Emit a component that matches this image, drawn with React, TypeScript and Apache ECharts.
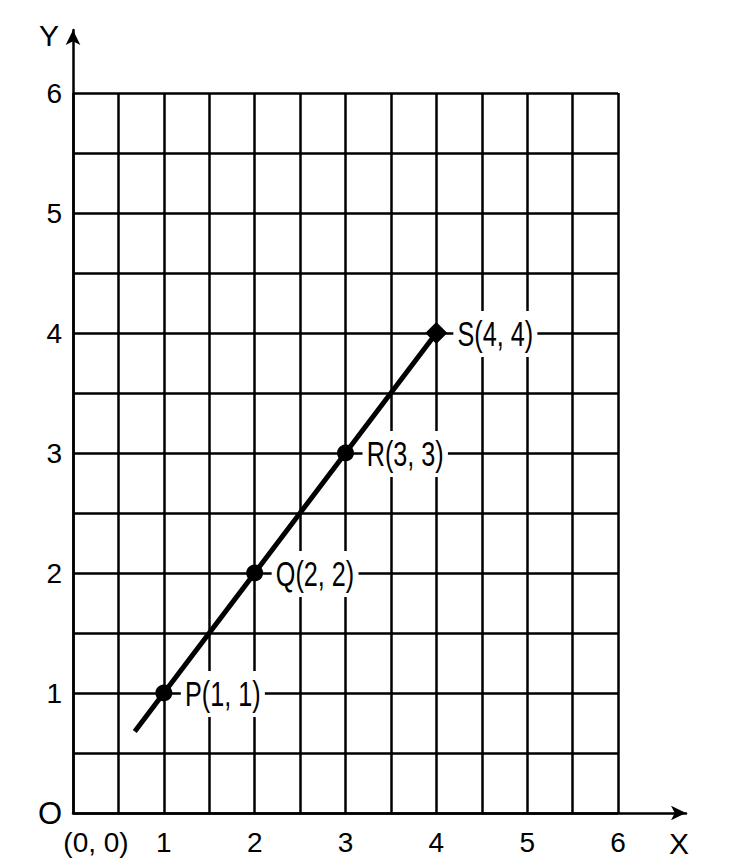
import React, { useEffect, useRef } from "react";
import * as echarts from "echarts";

// Data
const pointNames = ["P", "Q", "R", "S"];
const pointX = [1, 2, 3, 4];
const pointY = [1, 2, 3, 4];
const pointSymbols = ["circle", "circle", "circle", "diamond"];
const lineStartX = 0.68;
const lineStartY = 0.68;
const axisMin = 0;
const axisMax = 6;
const gridStep = 0.5;
const xNames = ["X"];
const yNames = ["Y"];
const originXLabel = "(0, 0)";
const originYLabel = "O";

const FONT = '"Liberation Sans", Arial, sans-serif';

export default function App() {
  const ref = useRef<HTMLDivElement>(null);

  useEffect(() => {
    if (!ref.current) return;
    const chart = echarts.init(ref.current, null, { renderer: "svg" });

    const lineData: any[] = [{ value: [lineStartX, lineStartY], symbol: "none" }];
    pointNames.forEach((n, i) => {
      lineData.push({
        name: n,
        value: [pointX[i], pointY[i]],
        symbol: pointSymbols[i],
        symbolSize: pointSymbols[i] === "diamond" ? 22 : 17,
      });
    });

    const labelData = pointNames.map((n, i) => [pointX[i], pointY[i], i]);

    const option: any = {
      animation: false,
      backgroundColor: "#fff",
      grid: [
        { left: 73, right: 128, top: 93, bottom: 55, containLabel: false },
        { left: 73, right: 60, top: 30, bottom: 55, containLabel: false },
      ],
      xAxis: [
        {
          type: "value",
          gridIndex: 0,
          min: axisMin,
          max: axisMax,
          interval: gridStep,
          axisLine: { show: false },
          axisTick: { show: false },
          splitLine: { show: true, lineStyle: { color: "#000", width: 2.5 } },
          axisLabel: {
            interval: 0,
            margin: 15,
            color: "#000",
            fontFamily: FONT,
            fontSize: 28,
            formatter: (v: number) =>
              v === 0 ? `{z|${originXLabel}}` : Number.isInteger(v) ? String(v) : "",
            rich: {
              z: {
                fontFamily: FONT,
                fontSize: 28,
                color: "#000",
                padding: [0, 0, 0, 46],
              },
            },
          },
        },
        {
          type: "value",
          gridIndex: 1,
          min: 0,
          max: 1,
          position: "bottom",
          axisLine: {
            show: true,
            symbol: ["none", "arrow"],
            symbolSize: [11, 15],
            lineStyle: { color: "#000", width: 2.5 },
          },
          axisTick: { show: false },
          axisLabel: { show: false },
          splitLine: { show: false },
          name: xNames[0],
          nameLocation: "end",
          nameGap: -7,
          nameTextStyle: {
            fontFamily: FONT,
            fontSize: 30,
            color: "#000",
            align: "center",
            verticalAlign: "top",
            padding: [15, 0, 0, 0],
          },
        },
      ],
      yAxis: [
        {
          type: "value",
          gridIndex: 0,
          min: axisMin,
          max: axisMax,
          interval: gridStep,
          axisLine: { show: false },
          axisTick: { show: false },
          splitLine: { show: true, lineStyle: { color: "#000", width: 2.5 } },
          axisLabel: {
            interval: 0,
            margin: 11,
            color: "#000",
            fontFamily: FONT,
            fontSize: 28,
            formatter: (v: number) =>
              v === 0 ? `{o|${originYLabel}}` : Number.isInteger(v) ? String(v) : "",
            rich: {
              o: { fontFamily: FONT, fontSize: 31, color: "#000" },
            },
          },
        },
        {
          type: "value",
          gridIndex: 1,
          min: 0,
          max: 1,
          position: "left",
          axisLine: {
            show: true,
            symbol: ["none", "arrow"],
            symbolSize: [11, 15],
            lineStyle: { color: "#000", width: 2.5 },
          },
          axisTick: { show: false },
          axisLabel: { show: false },
          splitLine: { show: false },
          name: yNames[0],
          nameLocation: "end",
          nameGap: -5,
          nameTextStyle: {
            fontFamily: FONT,
            fontSize: 30,
            color: "#000",
            align: "right",
            verticalAlign: "middle",
            padding: [0, 14, 0, 0],
          },
        },
      ],
      series: [
        {
          type: "custom",
          coordinateSystem: "cartesian2d",
          xAxisIndex: 0,
          yAxisIndex: 0,
          z: 3,
          clip: false,
          silent: true,
          data: labelData,
          renderItem: (params: any, api: any) => {
            const i = api.value(2);
            const p = api.coord([api.value(0), api.value(1)]);
            return {
              type: "text",
              x: p[0] + 17,
              y: p[1] + 1,
              scaleX: 0.7,
              style: {
                text: `${pointNames[i]}(${pointX[i]}, ${pointY[i]})`,
                fontFamily: FONT,
                fontSize: 36,
                lineHeight: 36,
                fill: "#000",
                align: "left",
                verticalAlign: "middle",
                backgroundColor: "#fff",
                padding: [5, 6],
              },
            };
          },
        },
        {
          type: "line",
          xAxisIndex: 0,
          yAxisIndex: 0,
          data: lineData,
          lineStyle: { color: "#000", width: 5 },
          itemStyle: { color: "#000" },
          z: 10,
          label: { show: false },
          emphasis: { disabled: true },
        },
      ],
    };

    chart.setOption(option);
    return () => chart.dispose();
  }, []);

  return (
    <div
      ref={ref}
      style={{ position: "fixed", left: 0, top: 0, width: 746, height: 868, background: "#fff" }}
    />
  );
}
